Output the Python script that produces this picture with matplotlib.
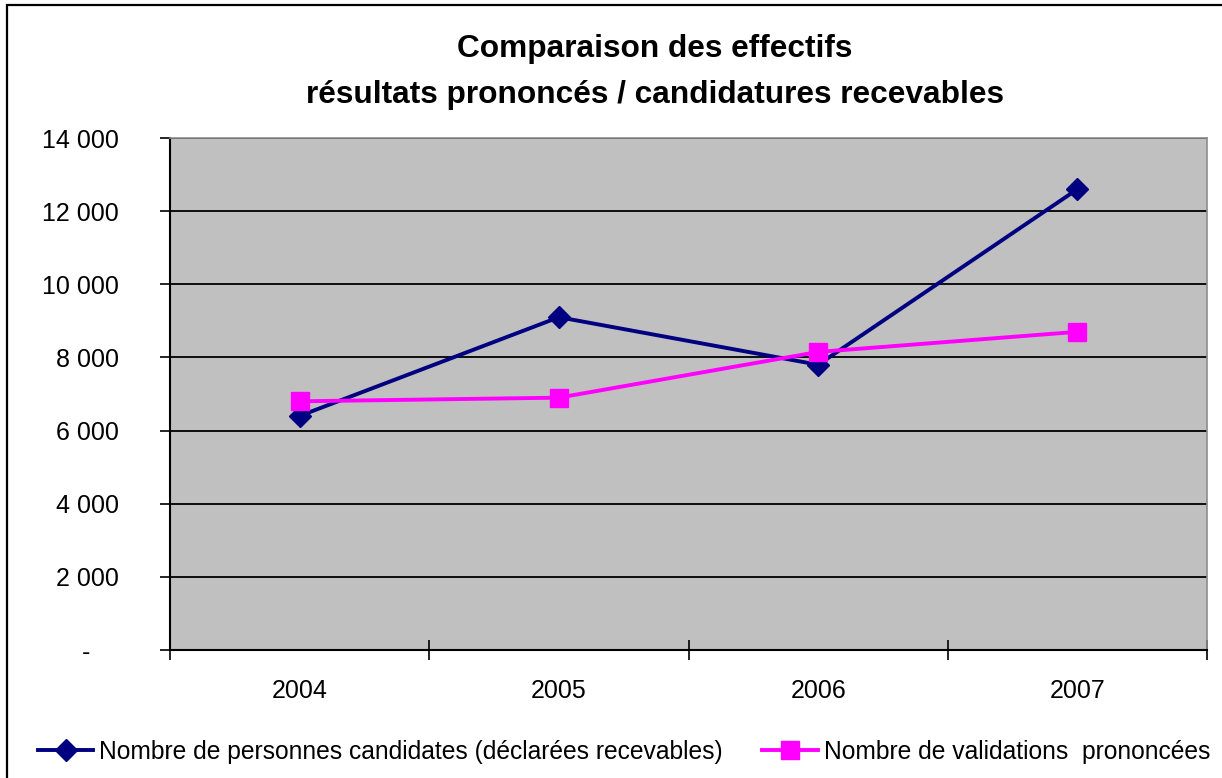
import matplotlib
matplotlib.use("Agg")
import matplotlib.pyplot as plt
from matplotlib.patches import Rectangle
from matplotlib.ticker import FuncFormatter, FixedLocator

plt.rcParams['font.family'] = ['Liberation Sans', 'DejaVu Sans']

years = ['2004', '2005', '2006', '2007']
candidats = [6400, 9100, 7800, 12600]
validations = [6800, 6900, 8150, 8700]
y_ticks = [0, 2000, 4000, 6000, 8000, 10000, 12000, 14000]

title = "Comparaison des effectifs\nrésultats prononcés / candidatures recevables"
label_cand = "Nombre de personnes candidates (déclarées recevables)"
label_valid = "Nombre de validations  prononcées"

W, H = 1222, 778
fig = plt.figure(figsize=(W / 100, H / 100), dpi=100)

# cadre extérieur (coupé à droite et en bas)
fig.patches.append(Rectangle((7 / W, -0.05), 1.1, 1 - 5 / H + 0.05,
                             transform=fig.transFigure, fill=False,
                             edgecolor='black', linewidth=1.6, zorder=0))

ax = fig.add_axes([170 / W, 1 - 650 / H, 1037 / W, 512 / H])
ax.set_facecolor('#C0C0C0')

x = list(range(len(years)))
ax.plot(x, candidats, color='#000080', linewidth=2.8, marker='D',
        markersize=11.5, label=label_cand, zorder=3)
ax.plot(x, validations, color='#FF00FF', linewidth=2.8, marker='s',
        markersize=13.5, label=label_valid, zorder=4)

ax.set_xlim(-0.5, len(years) - 0.5)
ax.set_ylim(0, 14000)

ax.set_yticks(y_ticks)
ax.yaxis.set_major_formatter(FuncFormatter(
    lambda v, p: '-    ' if v == 0 else f'{int(v):,}'.replace(',', ' ')))
ax.yaxis.grid(True, color='black', linewidth=1.3)
ax.set_axisbelow(True)

ax.xaxis.set_major_locator(FixedLocator([i - 0.5 for i in range(len(years) + 1)]))
ax.xaxis.set_minor_locator(FixedLocator(x))
ax.set_xticklabels([''] * (len(years) + 1))
ax.set_xticklabels(years, minor=True)
ax.tick_params(axis='x', which='major', direction='inout', length=14, width=1.2)
ax.tick_params(axis='x', which='minor', length=0, pad=21, labelsize=18)
ax.tick_params(axis='y', direction='out', length=7, width=1.2, pad=30, labelsize=18)

for s in ['top', 'right']:
    ax.spines[s].set_color('#8c8c8c')
    ax.spines[s].set_linewidth(1.2)
for s in ['left', 'bottom']:
    ax.spines[s].set_color('black')
    ax.spines[s].set_linewidth(1.5)

fig.text(655 / W, 1 - 72 / H, title, ha='center', va='center',
         fontsize=22.8, fontweight='bold', linespacing=1.7)

fig.legend(loc='center', bbox_to_anchor=(624 / W, 1 - 752 / H), ncol=2,
           frameon=False, fontsize=17.7, handlelength=2.25, handletextpad=0.25,
           columnspacing=1.6, borderaxespad=0)

fig.savefig('out.png', dpi=100)
